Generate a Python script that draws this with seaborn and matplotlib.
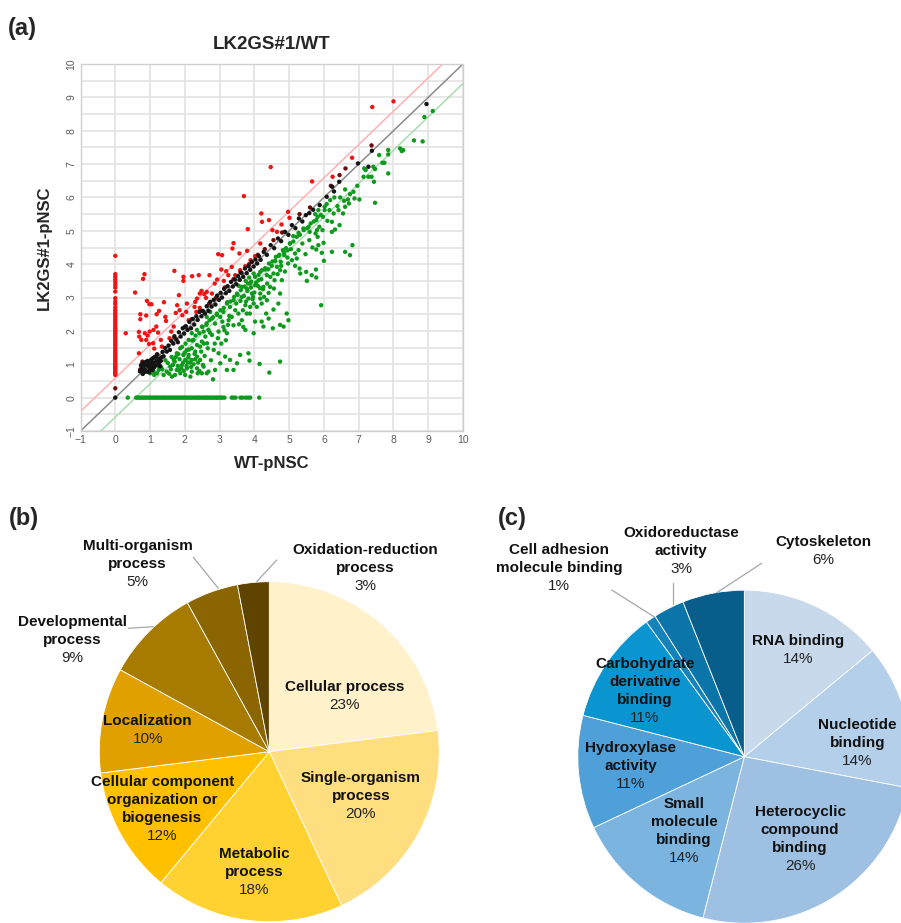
import matplotlib
matplotlib.use("Agg")
import matplotlib.pyplot as plt
import seaborn as sns
import pandas as pd
from matplotlib.lines import Line2D

# ---------------- DATA ----------------
# (a) scatter: WT-pNSC (x) vs LK2GS#1-pNSC (y)
red_zero_y = [0.68, 0.72, 0.76, 0.8, 0.84, 0.88, 0.92, 0.96, 1.0, 1.05, 1.1, 1.15, 1.2, 1.25,
              1.3, 1.36, 1.42, 1.48, 1.55, 1.6, 1.66, 1.72, 1.78, 1.84, 1.9, 1.95, 2.0, 2.05,
              2.1, 2.16, 2.22, 2.28, 2.35, 2.42, 2.48, 2.55, 2.62, 2.7, 2.8, 2.88, 2.98, 3.18,
              3.3, 3.38, 3.46, 3.54, 3.62, 3.7, 4.25]
green_zero_x = [0.36, 0.6, 0.64, 0.69, 0.73, 0.78, 0.82, 0.87, 0.91, 0.96, 1.0, 1.05, 1.1, 1.14,
                1.19, 1.23, 1.28, 1.33, 1.37, 1.42, 1.46, 1.51, 1.56, 1.6, 1.65, 1.7, 1.74, 1.79,
                1.83, 1.88, 1.93, 1.97, 2.02, 2.06, 2.11, 2.16, 2.2, 2.25, 2.3, 2.34, 2.39, 2.43,
                2.48, 2.53, 2.57, 2.62, 2.66, 2.71, 2.76, 2.8, 2.85, 2.9, 2.94, 2.99, 3.04, 3.08,
                3.14, 3.35, 3.4, 3.46, 3.6, 3.66, 3.75, 3.82, 3.88, 4.14]
red_pts = [(8.0, 8.88), (7.39, 8.71), (4.47, 6.91), (3.70, 6.04), (5.66, 6.48), (6.25, 6.62),
           (6.81, 7.19), (4.2, 5.52), (4.22, 5.27), (4.42, 5.32), (3.81, 5.05), (4.52, 5.02),
           (4.97, 5.57), (3.40, 4.63), (3.37, 4.47), (3.07, 4.27), (2.96, 4.30), (3.57, 4.32),
           (3.79, 4.40), (3.89, 4.12), (4.17, 4.62), (3.35, 3.92), (3.19, 3.79), (3.25, 3.67),
           (2.93, 3.54), (2.86, 3.42), (3.12, 3.50), (2.71, 3.67), (2.40, 3.67), (2.21, 3.64),
           (1.96, 3.62), (1.96, 3.50), (1.70, 3.80), (0.84, 3.70), (0.80, 3.56), (0.57, 3.15),
           (0.91, 2.90), (0.98, 2.80), (1.04, 2.80), (1.40, 2.86), (0.30, 1.93), (0.72, 2.50),
           (0.89, 2.46), (0.72, 2.35), (1.19, 2.50), (1.26, 2.60), (1.44, 2.42), (1.46, 2.30),
           (0.68, 1.97), (0.69, 1.83), (0.85, 1.93), (0.93, 1.86), (0.99, 1.98), (1.10, 2.03),
           (1.18, 2.13), (1.23, 1.95), (0.75, 1.73), (0.89, 1.73), (0.97, 1.61), (0.68, 1.33),
           (1.09, 1.63), (1.12, 1.47), (1.83, 3.07), (1.78, 2.77), (1.85, 2.62), (1.74, 2.54),
           (1.93, 2.47), (2.04, 2.57), (2.06, 2.82), (2.11, 2.32), (2.28, 2.72), (2.30, 2.87),
           (2.35, 2.97), (2.43, 3.12), (2.48, 3.20), (2.56, 3.10), (2.63, 3.17), (2.78, 3.12),
           (2.61, 2.99), (2.33, 2.57), (2.43, 2.69), (1.68, 2.13), (1.61, 1.98), (1.56, 1.78),
           (1.31, 1.73), (1.34, 1.53), (3.05, 3.84), (3.59, 3.82), (3.74, 3.94), (4.02, 4.24),
           (4.65, 4.97), (5.01, 5.39), (4.78, 5.19), (3.45, 3.67)]
darkred_pts = [(7.37, 7.56), (6.62, 6.87), (6.45, 6.67), (0.78, 1.08), (0.72, 0.85), (0.0, 0.28),
               (0.82, 0.98), (0.95, 1.05), (1.05, 1.15), (1.2, 1.3), (1.7, 1.8), (2.0, 2.12),
               (2.2, 2.35), (2.45, 2.6), (2.7, 2.82), (2.9, 3.0), (3.15, 3.3), (3.4, 3.55),
               (3.6, 3.75), (3.85, 4.0), (4.1, 4.28), (4.3, 4.45), (4.55, 4.72), (4.8, 4.95),
               (5.3, 5.5), (5.6, 5.7), (6.2, 6.35)]
black_pts = [(0.0, 0.0), (0.71, 0.79), (0.74, 0.97), (0.77, 1.01), (0.79, 0.71), (0.81, 0.9),
             (0.84, 1.04), (0.86, 0.83), (0.89, 0.97), (0.91, 0.78), (0.93, 1.1), (0.96, 0.92),
             (0.97, 0.76), (1.0, 1.03), (1.01, 0.87), (1.03, 1.13), (1.06, 0.96), (1.07, 0.83),
             (1.09, 1.19), (1.12, 1.04), (1.14, 1.22), (1.16, 0.97), (1.19, 1.11), (1.21, 1.29),
             (1.24, 1.07), (1.27, 1.16), (1.29, 0.94), (1.33, 1.21), (1.36, 1.37), (1.39, 1.24),
             (1.43, 1.49), (1.48, 1.38), (1.53, 1.56), (1.57, 1.43), (1.61, 1.7), (1.67, 1.62),
             (1.7, 1.84), (1.76, 1.74), (1.8, 1.66), (1.83, 1.96), (1.88, 1.83), (1.94, 2.08),
             (1.98, 1.92), (2.03, 2.14), (2.08, 2.03), (2.13, 2.27), (2.18, 2.08), (2.23, 2.36),
             (2.27, 2.19), (2.33, 2.44), (2.37, 2.33), (2.42, 2.57), (2.48, 2.44), (2.52, 2.6),
             (2.58, 2.52), (2.63, 2.74), (2.68, 2.6), (2.73, 2.87), (2.77, 2.73), (2.83, 2.93),
             (2.88, 2.79), (2.93, 3.06), (2.98, 2.93), (3.03, 3.14), (3.07, 3.0), (3.13, 3.26),
             (3.18, 3.13), (3.23, 3.34), (3.28, 3.2), (3.33, 3.47), (3.38, 3.33), (3.44, 3.54),
             (3.48, 3.4), (3.53, 3.64), (3.58, 3.53), (3.63, 3.74), (3.68, 3.62), (3.73, 3.87),
             (3.78, 3.73), (3.83, 3.94), (3.88, 3.83), (3.93, 4.07), (3.98, 3.93), (4.03, 4.14),
             (4.08, 4.02), (4.13, 4.24), (4.18, 4.13), (4.27, 4.37), (4.36, 4.28), (4.47, 4.57),
             (4.57, 4.48), (4.68, 4.77), (4.77, 4.69), (4.88, 4.97), (4.98, 4.88), (5.08, 5.17),
             (5.18, 5.08), (5.28, 5.37), (5.38, 5.28), (5.48, 5.47), (5.58, 5.53), (5.69, 5.63),
             (5.88, 5.77), (6.08, 6.02), (6.24, 6.32), (6.29, 6.18), (6.44, 6.47), (6.98, 7.02),
             (7.38, 7.4), (7.28, 6.92), (8.95, 8.8), (0.76, 0.86), (0.88, 1.07), (0.99, 0.82),
             (1.11, 0.9), (1.18, 1.24), (1.26, 0.99), (1.31, 1.1), (1.04, 1.06), (0.83, 0.76),
             (0.94, 1.0)]
green_pts = [(9.13, 8.59), (8.89, 8.41), (8.59, 7.71), (8.84, 7.68), (8.19, 7.47), (8.24, 7.39),
             (8.28, 7.42), (7.85, 7.42), (7.85, 7.29), (7.59, 7.27), (7.68, 7.04), (7.74, 7.04),
             (7.85, 6.72), (7.42, 6.92), (7.47, 6.85), (7.16, 6.87), (7.2, 6.82), (7.37, 6.62),
             (7.14, 6.62), (7.28, 6.62), (7.44, 6.47), (7.47, 5.84), (6.96, 6.35), (6.85, 6.17),
             (6.75, 6.1), (6.61, 6.24), (6.69, 5.94), (6.88, 5.97), (7.02, 5.94), (6.47, 6.0),
             (6.39, 5.74), (6.61, 5.72), (6.55, 5.52), (6.18, 5.92), (6.30, 6.0), (6.08, 5.8),
             (6.02, 5.72), (6.16, 5.62), (5.84, 5.62), (5.97, 5.42), (5.75, 5.5), (5.78, 5.32),
             (6.23, 5.27), (6.45, 5.17), (6.32, 5.04), (6.23, 4.97), (5.80, 5.02), (5.59, 4.97),
             (5.56, 5.12), (5.41, 5.07), (5.27, 4.94), (5.12, 4.84), (5.82, 4.82), (5.99, 4.64),
             (5.84, 4.57), (5.78, 4.44), (5.94, 4.34), (6.0, 4.10), (6.23, 4.37), (6.61, 4.37),
             (6.75, 4.27), (6.82, 4.57), (5.92, 2.77), (5.49, 3.77), (5.51, 3.50), (5.65, 3.67),
             (5.77, 3.84), (5.78, 3.60), (5.30, 3.87), (5.32, 3.72), (5.22, 4.17), (5.17, 4.32),
             (5.03, 4.62), (4.95, 4.42), (4.86, 4.27), (4.76, 4.07), (4.65, 3.92), (4.74, 3.82),
             (4.55, 3.72), (4.79, 3.52), (4.45, 3.32), (4.56, 3.27), (4.41, 3.14), (4.74, 3.12),
             (4.69, 2.82), (4.55, 2.64), (4.34, 2.52), (4.21, 2.82), (4.17, 3.12), (4.26, 3.32),
             (4.12, 3.52), (4.36, 3.67), (4.31, 3.84), (4.17, 3.77), (3.98, 3.72), (4.02, 3.37),
             (3.88, 3.42), (3.78, 3.27), (3.93, 3.12), (3.83, 2.97), (3.98, 2.82), (3.88, 2.72),
             (3.74, 2.77), (3.64, 3.02), (3.64, 3.32), (3.50, 3.12), (3.40, 2.92), (3.30, 2.72),
             (3.21, 2.82), (3.11, 2.57), (3.02, 2.42), (3.26, 2.32), (3.40, 2.17), (3.11, 2.12),
             (3.21, 1.93), (2.97, 1.98), (2.87, 2.22), (2.78, 1.88), (2.68, 2.03), (2.59, 1.83),
             (2.49, 1.68), (2.64, 1.63), (2.83, 1.43), (2.97, 1.33), (3.16, 1.23), (3.02, 1.03),
             (3.21, 0.83), (2.87, 0.83), (2.81, 0.55), (2.68, 0.78), (2.54, 0.93), (2.44, 1.13),
             (2.30, 1.38), (2.20, 1.48), (2.11, 1.28), (2.01, 1.13), (1.92, 0.98), (1.77, 0.83),
             (1.72, 0.68), (1.87, 0.73), (2.06, 0.88), (2.20, 0.78), (2.35, 0.88), (2.49, 0.73),
             (2.63, 0.73), (1.96, 1.28), (2.06, 1.43), (1.87, 1.48), (1.77, 1.33), (1.68, 1.13),
             (1.58, 0.93), (1.48, 0.78), (1.39, 0.68), (1.25, 0.83), (1.20, 0.73), (1.10, 0.78),
             (1.01, 0.73), (1.63, 0.63), (2.01, 0.68), (2.16, 0.63), (2.37, 0.73), (2.20, 1.13),
             (2.35, 1.23), (2.44, 1.53), (2.25, 1.73), (2.11, 1.73), (2.20, 1.93), (2.35, 2.03),
             (2.49, 2.13), (2.63, 2.23), (2.78, 2.37), (2.92, 2.52), (2.73, 2.57), (2.63, 2.42),
             (2.54, 1.98), (3.40, 0.83), (3.30, 1.13), (3.50, 1.03), (3.59, 1.28), (3.83, 1.33),
             (3.86, 1.11), (4.15, 1.01), (4.43, 0.75), (4.74, 1.08), (3.74, 2.03), (3.98, 1.93),
             (4.26, 2.13), (4.02, 2.28), (4.53, 2.08), (4.74, 2.18), (4.84, 2.13), (4.98, 2.32),
             (4.93, 2.52), (4.21, 2.28), (4.41, 2.37), (3.64, 2.32), (3.54, 2.52), (3.78, 2.52),
             (4.17, 2.97), (4.36, 2.92), (1.32, 0.91), (1.51, 1.04), (1.62, 1.22), (1.71, 1.08),
             (1.81, 1.31), (1.92, 1.52), (2.02, 1.62), (2.12, 1.44), (2.21, 1.71), (2.31, 1.86),
             (2.42, 1.93), (2.51, 2.12), (2.62, 2.18), (2.71, 2.32), (2.81, 2.41), (2.92, 2.48),
             (3.02, 2.62), (3.12, 2.69), (3.22, 2.86), (3.31, 2.88), (3.42, 3.02), (3.52, 3.08),
             (3.61, 3.22), (3.72, 3.33), (3.82, 3.42), (3.91, 3.48), (4.02, 3.62), (4.12, 3.68),
             (4.22, 3.82), (4.31, 3.88), (4.42, 4.02), (4.52, 4.08), (4.62, 4.22), (4.72, 4.28),
             (4.82, 4.42), (4.91, 4.48), (5.02, 4.62), (5.12, 4.68), (5.22, 4.82), (5.31, 4.88),
             (5.42, 5.02), (5.52, 5.08), (5.62, 5.22), (5.71, 5.28), (5.82, 5.42), (5.91, 5.48),
             (6.02, 5.62), (1.95, 1.05), (2.05, 0.95), (2.1, 1.2), (2.15, 1.05), (1.85, 1.15),
             (1.9, 0.88), (2.0, 1.35), (2.25, 1.0), (1.8, 0.95), (2.3, 1.15), (3.7, 3.05),
             (3.8, 3.2), (3.9, 3.3), (4.0, 3.15), (3.95, 2.95), (4.05, 3.45), (3.6, 2.9),
             (3.75, 3.5), (4.1, 3.35), (3.85, 3.6), (4.2, 3.55), (4.25, 3.25), (3.55, 3.35),
             (4.6, 4.1), (4.7, 4.25), (4.85, 4.35), (4.95, 4.2), (4.5, 3.95), (5.05, 4.45),
             (4.4, 3.85), (1.12, 0.68), (1.22, 0.95), (1.35, 0.85), (1.44, 1.12), (1.55, 0.72),
             (1.6, 0.85), (1.66, 0.98), (1.74, 1.22), (1.83, 0.82), (1.97, 0.8), (2.08, 1.06),
             (2.18, 0.92), (2.28, 1.31), (2.38, 1.05), (2.47, 1.38), (2.57, 1.25), (2.66, 1.48),
             (2.75, 1.12), (2.86, 1.62), (2.95, 1.78), (3.05, 1.62), (3.14, 2.02), (3.24, 2.18),
             (3.35, 2.42), (3.45, 2.62), (3.56, 2.2), (3.67, 2.62), (3.76, 2.88), (3.87, 2.52),
             (3.96, 3.02), (4.07, 2.72), (4.16, 3.28), (4.28, 3.02), (4.37, 3.42), (4.46, 3.62),
             (4.58, 3.52), (4.67, 3.7), (4.77, 3.95), (4.88, 3.78), (4.97, 4.02), (5.08, 4.12),
             (5.17, 3.95), (5.27, 4.42), (5.38, 4.62), (5.47, 4.3), (5.58, 4.72), (5.67, 4.5),
             (5.76, 4.92), (5.87, 5.12), (5.96, 5.02), (6.1, 5.3), (6.28, 5.52), (6.42, 5.62),
             (6.58, 5.9), (6.72, 5.82), (3.28, 2.45), (3.48, 2.82), (3.68, 2.12), (2.55, 1.62),
             (2.35, 1.58), (2.72, 1.95), (3.08, 2.28), (3.18, 1.72), (2.42, 0.8), (2.52, 0.98)]
fold_lines = [0.585, 0.0, -0.585]   # log2(1.5) fold-change bounds and identity

# (b) biological process
bp_labels = ["Cellular process", "Single-organism\nprocess", "Metabolic\nprocess",
             "Cellular component\norganization or\nbiogenesis", "Localization",
             "Developmental\nprocess", "Multi-organism\nprocess", "Oxidation-reduction\nprocess"]
bp_values = [23, 20, 18, 12, 10, 9, 5, 3]
# (c) molecular function
mf_labels = ["RNA binding", "Nucleotide\nbinding", "Heterocyclic\ncompound\nbinding",
             "Small\nmolecule\nbinding", "Hydroxylase\nactivity", "Carbohydrate\nderivative\nbinding",
             "Cell adhesion\nmolecule binding", "Oxidoreductase\nactivity", "Cytoskeleton"]
mf_values = [14, 14, 26, 14, 11, 11, 1, 3, 6]

# ---------------- STYLE ----------------
sns.set_style("white")
plt.rcParams['font.family'] = ['Liberation Sans', 'DejaVu Sans']

W, H = 901, 923
fig = plt.figure(figsize=(W / 100, H / 100), dpi=100)

def fx(px):
    return px / W

def fy(py):
    return 1 - py / H

# ---------------- (a) scatter ----------------
ax = fig.add_axes([fx(80.5), fy(431), (463 - 80.5) / W, (431 - 64) / H])
rows = []
for y in red_zero_y:
    rows.append((0.0, y, "up"))
for x in green_zero_x:
    rows.append((x, 0.0, "down"))
for x, y in red_pts:
    rows.append((x, y, "up"))
for x, y in green_pts:
    rows.append((x, y, "down"))
for x, y in darkred_pts:
    rows.append((x, y, "near_up"))
for x, y in black_pts:
    rows.append((x, y, "same"))
df = pd.DataFrame(rows, columns=["WT", "LK", "group"])
pal = {"up": "#f01414", "down": "#0f9a1e", "near_up": "#6e0c0c", "same": "#141414"}

ax.set_xlim(-1, 10)
ax.set_ylim(-1, 10)
ax.set_xticks(range(-1, 11))
ax.set_yticks(range(-1, 11))
ax.set_yticks([v + 0.5 for v in range(-1, 10)], minor=True)
ax.grid(True, which="major", color="#e3e3e3", lw=1.2)
ax.grid(True, which="minor", axis="y", color="#e3e3e3", lw=1.2)
ax.set_axisbelow(True)

line_cols = ["#ffb0b0", "#8a8a8a", "#a8dcae"]
for off, c in zip(fold_lines, line_cols):
    ax.axline((0, off), slope=1, color=c, lw=1.1, zorder=1)

sns.scatterplot(data=df, x="WT", y="LK", hue="group", palette=pal, s=10, linewidth=0,
                legend=False, ax=ax, zorder=3,
                hue_order=["up", "down", "near_up", "same"])

for s in ax.spines.values():
    s.set_color("#cfcfcf")
    s.set_linewidth(1.0)
ax.tick_params(axis="both", length=0, labelsize=7.5, labelcolor="#5a5a5a", pad=3)
ax.tick_params(axis="y", which="minor", length=0)
for lab in ax.get_yticklabels():
    lab.set_rotation(90)
    lab.set_va("center")
ax.set_xlabel("WT-pNSC", fontsize=12, fontweight="bold")
ax.set_ylabel("LK2GS#1-pNSC", fontsize=12, fontweight="bold")
ax.xaxis.set_label_coords(0.5, -0.068)
ax.yaxis.set_label_coords(-0.075, 0.5)
ax.set_title("LK2GS#1/WT", fontsize=13.5, fontweight="bold", pad=11)

# ---------------- pies ----------------
def make_pie(cx, cy, r, values, colors):
    a = fig.add_axes([fx(cx - r), fy(cy + r), 2 * r / W, 2 * r / H])
    a.pie(values, colors=colors, startangle=90, counterclock=False, radius=1,
          wedgeprops=dict(edgecolor="white", linewidth=0.6))
    a.set_xlim(-1, 1)
    a.set_ylim(-1, 1)
    a.set_aspect("equal")
    a.axis("off")
    return a

bp_colors = ["#fff1c9", "#ffde80", "#ffd232", "#ffc000", "#e0a100", "#a67b00", "#8a6500", "#5f4400"]
mf_colors = ["#c8d9ec", "#b3cfea", "#9dc0e3", "#7bb4df", "#4f9fd8", "#0a94d0", "#1582ba",
             "#0b75a9", "#075e8a"]
make_pie(269.3, 751.7, 170, bp_values, bp_colors)
make_pie(744.3, 756.7, 166.5, mf_values, mf_colors)

# ---------------- labels ----------------
def put_label(x, y0, name, pct, pitch=18.0, size=11):
    lines = name.split("\n")
    for i, ln in enumerate(lines):
        fig.text(fx(x), fy(y0 + i * pitch), ln, ha="center", va="center",
                 fontsize=size, fontweight="bold", color="#111111")
    fig.text(fx(x), fy(y0 + len(lines) * pitch), f"{pct}%", ha="center", va="center",
             fontsize=size, color="#222222")

bp_pos = [(344.3, 687.3), (361, 778.3), (254.3, 854), (162.3, 781.7), (147.7, 720.7),
          (72.7, 621.7), (137.7, 545.7), (365.7, 550)]
for (x, y), name, v in zip(bp_pos, bp_labels, bp_values):
    put_label(x, y, name, v)

mf_pos = [(798.3, 640.7), (857.3, 725), (800, 811.7), (684, 804), (631, 747.7), (645, 664),
          (559.3, 550), (681, 532.7), (823.3, 542.3)]
for (x, y), name, v in zip(mf_pos, mf_labels, mf_values):
    put_label(x, y, name, v)

leaders = [((193.3, 557.3), (218.3, 588.3)), ((276.7, 560), (256.7, 581.7)),
           ((128.3, 628.3), (153.3, 626.7)), ((611.7, 590), (654, 616.7)),
           ((672.7, 583.3), (672.7, 604)), ((761.7, 563.3), (716.7, 592.7))]
for (x0, y0), (x1, y1) in leaders:
    fig.add_artist(Line2D([fx(x0), fx(x1)], [fy(y0), fy(y1)], color="#a6a6a6", lw=0.9))

# panel letters
fig.text(fx(8), fy(28), "(a)", fontsize=17, fontweight="bold", va="center", ha="left")
fig.text(fx(9), fy(519), "(b)", fontsize=17, fontweight="bold", va="center", ha="left")
fig.text(fx(498), fy(519), "(c)", fontsize=17, fontweight="bold", va="center", ha="left")

fig.savefig("out.png", dpi=100)
